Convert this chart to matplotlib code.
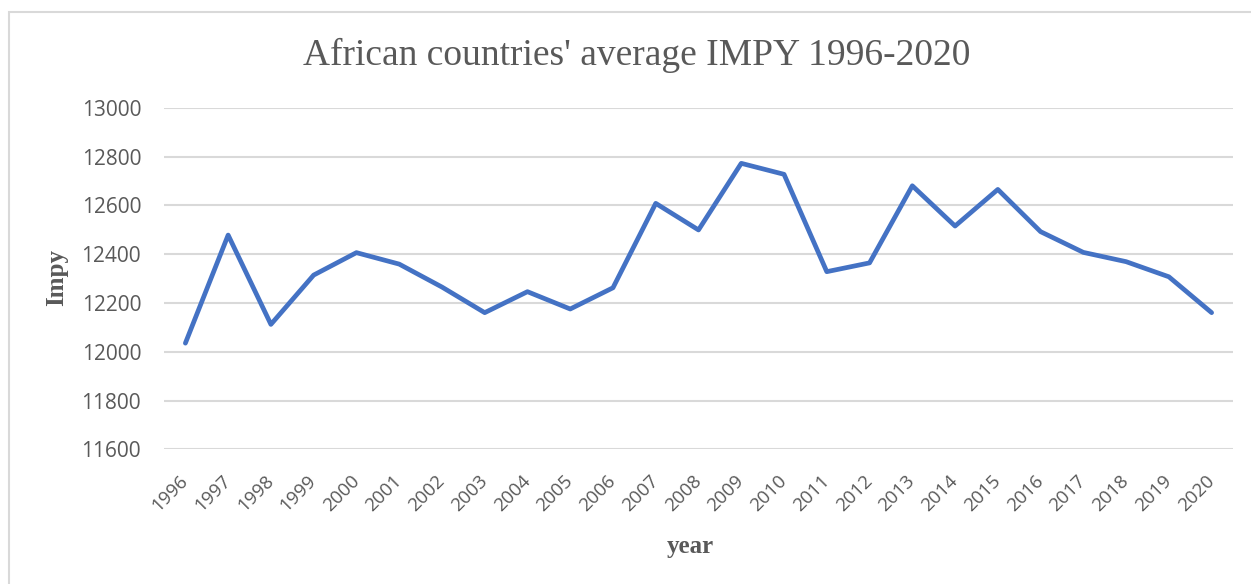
import matplotlib
matplotlib.use("Agg")
import matplotlib.pyplot as plt
from matplotlib.patches import Rectangle

years = [str(y) for y in range(1996, 2021)]
impy = [12035, 12478, 12112, 12314, 12406, 12359, 12265, 12160, 12246, 12175,
        12262, 12608, 12499, 12772, 12727, 12328, 12364, 12680, 12515, 12665,
        12492, 12407, 12369, 12307, 12160]
yticks = [11600, 11800, 12000, 12200, 12400, 12600, 12800, 13000]

title = "African countries' average IMPY 1996-2020"
text_grey = "#595959"
line_blue = "#4472C4"
grid_grey = "#D9D9D9"

fig = plt.figure(figsize=(12.51, 5.84), dpi=100)
W, H = 1251, 584

# outer chart frame
fig.patches.append(Rectangle((8.5 / W, -0.1), 1.2, 1.1 - 11.5 / H,
                             transform=fig.transFigure, fill=False,
                             edgecolor=grid_grey, linewidth=1.5))

ax = fig.add_axes([164 / W, 1 - 449.3 / H, (1233 - 164) / W, (449.3 - 107.7) / H])
x = list(range(len(years)))
ax.plot(x, impy, color=line_blue, linewidth=3.4, solid_joinstyle="round",
        solid_capstyle="round", zorder=3)

ax.set_xlim(-0.5, len(years) - 0.5)
ax.set_ylim(yticks[0], yticks[-1])
ax.set_yticks(yticks)
ax.set_yticklabels([str(v) for v in yticks], fontfamily="Open Sans",
                   fontsize=15, color=text_grey)
ax.set_xticks(x)
ax.set_xticklabels(years, rotation=45, ha="right", va="center",
                   rotation_mode="anchor",
                   fontfamily="Open Sans", fontsize=13.5, color=text_grey)
ax.tick_params(axis="both", length=0)
ax.tick_params(axis="y", pad=16.5)
ax.tick_params(axis="x", pad=21)
ax.grid(axis="y", color=grid_grey, linewidth=1.5)
ax.set_axisbelow(True)
for s in ax.spines.values():
    s.set_visible(False)

fig.text(637 / W, 1 - 55 / H, title, ha="center", va="center",
         fontfamily="Liberation Serif", fontsize=27, color=text_grey)
fig.text(57 / W, 1 - 278 / H, "Impy", ha="center", va="center", rotation=90,
         fontfamily="Liberation Serif", fontweight="bold", fontsize=18,
         color=text_grey)
fig.text(690 / W, 1 - 547 / H, "year", ha="center", va="center",
         fontfamily="Liberation Serif", fontweight="bold", fontsize=18,
         color=text_grey)

fig.savefig("out.png", dpi=100, facecolor="white")
